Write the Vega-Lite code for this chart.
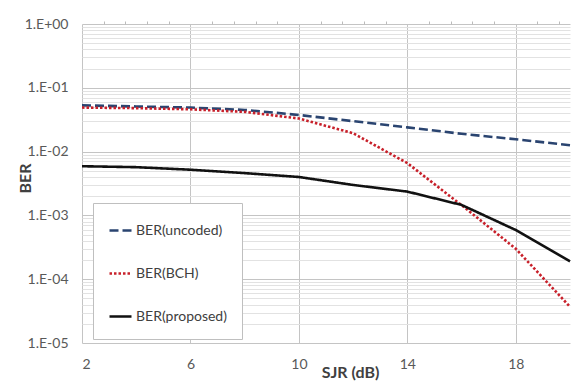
{
  "$schema": "https://vega.github.io/schema/vega-lite/v6.json",
  "width": 488,
  "height": 319,
  "autosize": "none",
  "padding": {"left": 82, "top": 24, "right": 12, "bottom": 45},
  "background": "white",
  "config": {
    "view": {"stroke": null},
    "font": "Lato",
    "axis": {"labelFont": "Lato", "titleFont": "Lato"},
    "legend": {"labelFont": "Lato"}
  },
  "data": {
    "values": [
      {"x": 2, "ber": 0.053, "series": "BER(uncoded)"},
      {"x": 4, "ber": 0.051, "series": "BER(uncoded)"},
      {"x": 6, "ber": 0.049, "series": "BER(uncoded)"},
      {"x": 8, "ber": 0.045, "series": "BER(uncoded)"},
      {"x": 10, "ber": 0.0375, "series": "BER(uncoded)"},
      {"x": 12, "ber": 0.030, "series": "BER(uncoded)"},
      {"x": 14, "ber": 0.024, "series": "BER(uncoded)"},
      {"x": 16, "ber": 0.019, "series": "BER(uncoded)"},
      {"x": 18, "ber": 0.0156, "series": "BER(uncoded)"},
      {"x": 20, "ber": 0.0126, "series": "BER(uncoded)"},
      {"x": 2, "ber": 0.049, "series": "BER(BCH)"},
      {"x": 4, "ber": 0.048, "series": "BER(BCH)"},
      {"x": 6, "ber": 0.046, "series": "BER(BCH)"},
      {"x": 8, "ber": 0.042, "series": "BER(BCH)"},
      {"x": 10, "ber": 0.033, "series": "BER(BCH)"},
      {"x": 12, "ber": 0.0194, "series": "BER(BCH)"},
      {"x": 14, "ber": 0.0066, "series": "BER(BCH)"},
      {"x": 16, "ber": 0.00145, "series": "BER(BCH)"},
      {"x": 18, "ber": 0.0003, "series": "BER(BCH)"},
      {"x": 20, "ber": 0.000037, "series": "BER(BCH)"},
      {"x": 2, "ber": 0.0059, "series": "BER(proposed)"},
      {"x": 4, "ber": 0.0057, "series": "BER(proposed)"},
      {"x": 6, "ber": 0.0052, "series": "BER(proposed)"},
      {"x": 8, "ber": 0.0046, "series": "BER(proposed)"},
      {"x": 10, "ber": 0.0040, "series": "BER(proposed)"},
      {"x": 12, "ber": 0.0030, "series": "BER(proposed)"},
      {"x": 14, "ber": 0.00236, "series": "BER(proposed)"},
      {"x": 16, "ber": 0.00146, "series": "BER(proposed)"},
      {"x": 18, "ber": 0.00059, "series": "BER(proposed)"},
      {"x": 20, "ber": 0.00019, "series": "BER(proposed)"}
    ]
  },
  "layer": [
    {
      "mark": {"type": "line", "strokeWidth": 2.6, "strokeCap": "butt"},
      "encoding": {
        "x": {
          "field": "x", "type": "quantitative",
          "scale": {"domain": [2, 20], "nice": false, "zero": false},
          "axis": {
            "values": [2, 6, 10, 14, 18],
            "title": "SJR (dB)",
            "titleFontSize": 16, "titleFontWeight": "bold", "titleColor": "#404040",
            "titleX": 268, "titleY": 29, "titleBaseline": "middle",
            "labelFontSize": 14, "labelColor": "#595959", "labelPadding": 14,
            "ticks": false, "domain": false,
            "grid": true, "gridColor": "#c4c4c4", "gridWidth": 1
          }
        },
        "y": {
          "field": "ber", "type": "quantitative",
          "scale": {"type": "log", "domain": [0.00001, 1], "nice": false},
          "axis": {
            "values": [0.00001, 0.00002, 0.00003, 0.00004, 0.00005, 0.00006, 0.00007, 0.00008, 0.00009,
                       0.0001, 0.0002, 0.0003, 0.0004, 0.0005, 0.0006, 0.0007, 0.0008, 0.0009,
                       0.001, 0.002, 0.003, 0.004, 0.005, 0.006, 0.007, 0.008, 0.009,
                       0.01, 0.02, 0.03, 0.04, 0.05, 0.06, 0.07, 0.08, 0.09,
                       0.1, 0.2, 0.3, 0.4, 0.5, 0.6, 0.7, 0.8, 0.9, 1],
            "labelExpr": "abs(log(datum.value)/LN10 - round(log(datum.value)/LN10)) < 0.001 ? (datum.value >= 0.999 ? '1.E+00' : '1.E-0' + round(-log(datum.value)/LN10)) : ''",
            "title": "BER",
            "titleFontSize": 16, "titleFontWeight": "bold", "titleColor": "#404040",
            "titleX": -57, "titleY": 154, "titleAngle": -90, "titleBaseline": "middle", "titleAlign": "center",
            "labelFontSize": 14, "labelColor": "#595959", "labelPadding": 14,
            "ticks": false, "domain": false,
            "grid": true,
            "gridColor": {"condition": {"test": "abs(log(datum.value)/LN10 - round(log(datum.value)/LN10)) < 0.001", "value": "#c4c4c4"}, "value": "#e2e2e2"},
            "gridWidth": 1
          }
        },
        "color": {
          "field": "series", "type": "nominal",
          "scale": {"domain": ["BER(uncoded)", "BER(BCH)", "BER(proposed)"], "range": ["#2a4470", "#c8202a", "#111111"]},
          "legend": {
            "title": null, "orient": "none", "legendX": 11, "legendY": 179,
            "symbolType": "stroke", "symbolSize": 484, "symbolStrokeWidth": 2.6,
            "labelFontSize": 14, "labelColor": "#404040", "labelOffset": 3,
            "padding": 15, "rowPadding": 23,
            "fillColor": "white", "strokeColor": "#bfbfbf"
          }
        },
        "strokeDash": {
          "field": "series", "type": "nominal",
          "scale": {"domain": ["BER(uncoded)", "BER(BCH)", "BER(proposed)"], "range": [[9, 4], [2.5, 2], [1, 0]]},
          "legend": null
        }
      }
    },
    {
      "mark": {"type": "line", "opacity": 0},
      "encoding": {
        "x": {
          "field": "x", "type": "quantitative",
          "scale": {"domain": [2, 20], "nice": false, "zero": false},
          "axis": {
            "orient": "top",
            "values": [2.8, 3.6, 4.4, 5.2, 6.8, 7.6, 8.4, 9.2, 10.8, 11.6, 12.4, 13.2, 14.8, 15.6, 16.4, 17.2, 18.8, 19.6],
            "labels": false, "title": null, "domain": false, "grid": false,
            "ticks": true, "tickSize": 3, "tickColor": "#bbbbbb", "tickWidth": 1
          }
        },
        "y": {"field": "ber", "type": "quantitative"},
        "detail": {"field": "series"}
      }
    }
  ],
  "resolve": {"axis": {"x": "independent"}}
}
